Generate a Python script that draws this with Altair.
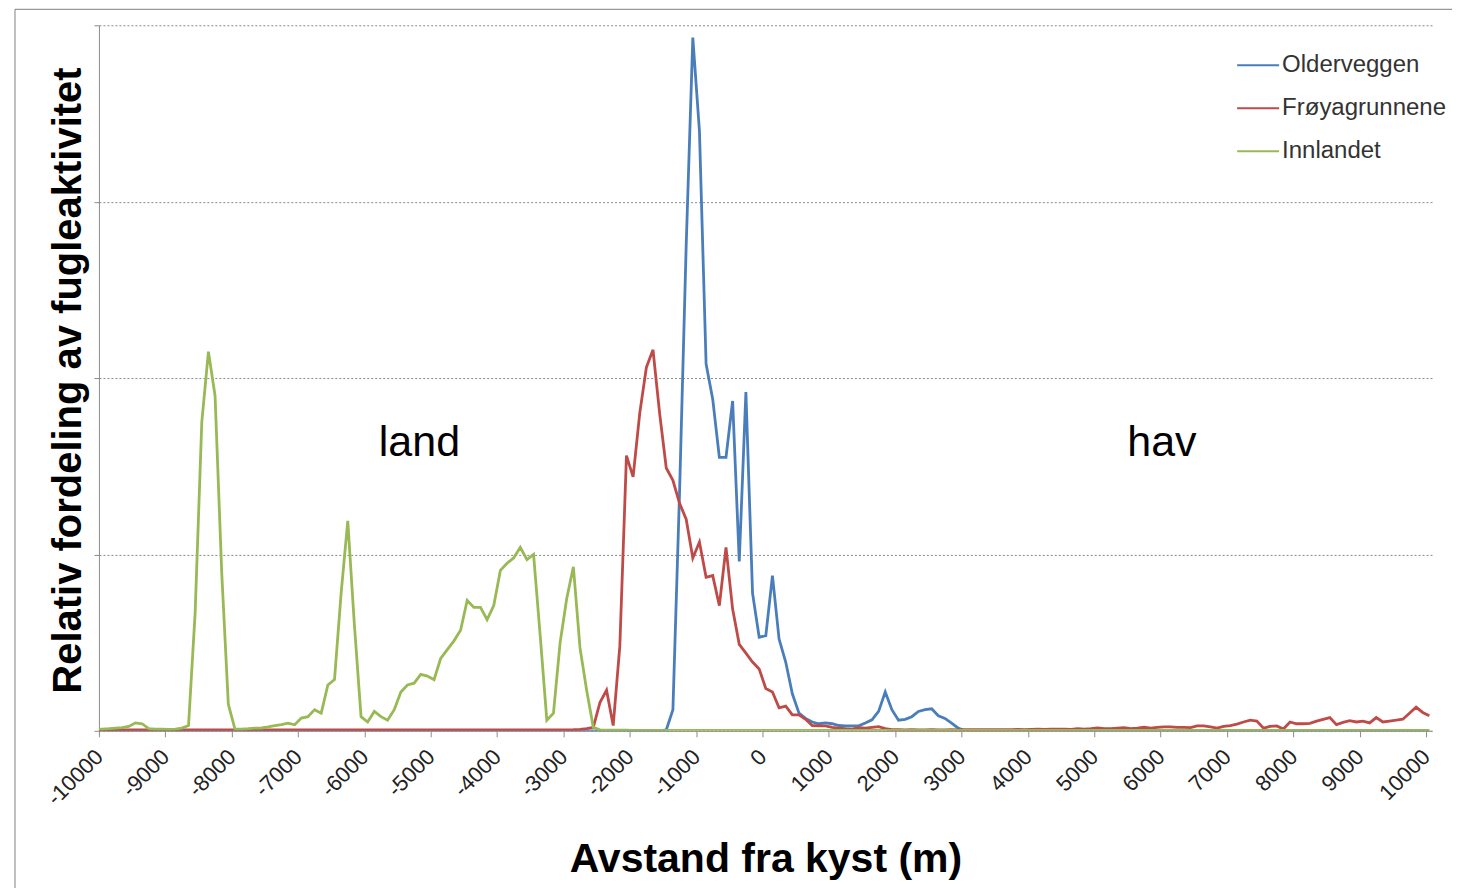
import altair as alt
import pandas as pd

# distance grid (m): bin centres with the two ends
x_vals = [-10000] + list(range(-9950, 10000, 100)) + [10050]

series_names = ["Olderveggen", "Frøyagrunnene", "Innlandet"]
series_colors = ["#4A7EBB", "#BE4B48", "#98B954"]

olderveggen = [
    0.0,
    0, 0, 0, 0, 0, 0, 0, 0, 0, 0,
    0, 0, 0, 0, 0, 0, 0, 0, 0, 0,
    0, 0, 0, 0, 0, 0, 0, 0, 0, 0,
    0, 0, 0, 0, 0, 0, 0, 0, 0, 0,
    0, 0, 0, 0, 0, 0, 0, 0, 0, 0,
    0, 0, 0, 0, 0, 0, 0, 0, 0, 0,
    0, 0, 0, 0, 0, 0, 0, 0, 0, 0,
    0, 0, 0, 0, 0, 0, 0, 0, 0, 0,
    0, 0, 0, 0, 0, 0.005, 0.12, 1.35, 2.75, 3.93,
    3.4, 2.08, 1.88, 1.55, 1.55, 1.87, 0.96, 1.92, 0.78, 0.53,
    0.54, 0.88, 0.52, 0.39, 0.21, 0.10, 0.07, 0.05, 0.04, 0.045,
    0.04, 0.03, 0.028, 0.028, 0.028, 0.044, 0.062, 0.11, 0.22, 0.12,
    0.06, 0.065, 0.08, 0.11, 0.12, 0.125, 0.085, 0.07, 0.044, 0.015,
    0, 0, 0, 0, 0, 0, 0, 0, 0, 0,
    0, 0, 0, 0, 0, 0, 0, 0, 0, 0,
    0, 0, 0, 0, 0, 0, 0, 0, 0, 0,
    0, 0, 0, 0, 0, 0, 0, 0, 0, 0,
    0, 0, 0, 0, 0, 0, 0, 0, 0, 0,
    0, 0, 0, 0, 0, 0, 0, 0, 0, 0,
    0, 0, 0, 0, 0, 0, 0, 0, 0, 0,
    0.0,
]

froyagrunnene = [
    0.004,
    0.005, 0.005, 0.005, 0.005, 0.005, 0.005, 0.005, 0.005, 0.005, 0.005,
    0.005, 0.005, 0.005, 0.005, 0.005, 0.005, 0.005, 0.005, 0.005, 0.005,
    0.005, 0.005, 0.005, 0.005, 0.005, 0.005, 0.005, 0.005, 0.005, 0.005,
    0.005, 0.005, 0.005, 0.005, 0.005, 0.005, 0.005, 0.005, 0.005, 0.005,
    0.005, 0.005, 0.005, 0.005, 0.005, 0.005, 0.005, 0.005, 0.005, 0.005,
    0.005, 0.005, 0.005, 0.005, 0.005, 0.005, 0.005, 0.005, 0.005, 0.005,
    0.005, 0.005, 0.005, 0.005, 0.005, 0.005, 0.005, 0.005, 0.005, 0.005,
    0.005, 0.006, 0.008, 0.012, 0.02, 0.16, 0.23, 0.03, 0.48, 1.56,
    1.44, 1.8, 2.06, 2.16, 1.8, 1.49, 1.42, 1.29, 1.20, 0.98,
    1.07, 0.87, 0.88, 0.71, 1.04, 0.69, 0.49, 0.44, 0.39, 0.35,
    0.24, 0.22, 0.13, 0.14, 0.09, 0.09, 0.065, 0.03, 0.028, 0.028,
    0.02, 0.015, 0.012, 0.01, 0.018, 0.015, 0.02, 0.024, 0.012, 0.006,
    0.006, 0.005, 0.006, 0.005, 0.005, 0.006, 0.005, 0.005, 0.006, 0.005,
    0.006, 0.006, 0.007, 0.006, 0.006, 0.007, 0.006, 0.007, 0.008, 0.007,
    0.008, 0.009, 0.008, 0.01, 0.009, 0.01, 0.008, 0.012, 0.01, 0.012,
    0.017, 0.012, 0.012, 0.015, 0.018, 0.012, 0.015, 0.02, 0.015, 0.02,
    0.022, 0.022, 0.02, 0.02, 0.018, 0.028, 0.028, 0.022, 0.015, 0.025,
    0.03, 0.038, 0.05, 0.06, 0.055, 0.015, 0.025, 0.028, 0.01, 0.05,
    0.04, 0.04, 0.042, 0.055, 0.065, 0.075, 0.035, 0.048, 0.058, 0.05,
    0.055, 0.045, 0.075, 0.05, 0.055, 0.06, 0.066, 0.1, 0.134, 0.104,
    0.085,
]

innlandet = [
    0.01,
    0.01, 0.012, 0.015, 0.018, 0.025, 0.045, 0.04, 0.012, 0.01, 0.01,
    0.008, 0.01, 0.015, 0.03, 0.67, 1.75, 2.15, 1.9, 0.9, 0.15,
    0.01, 0.01, 0.012, 0.015, 0.016, 0.022, 0.03, 0.035, 0.043, 0.034,
    0.072, 0.08, 0.12, 0.10, 0.26, 0.29, 0.78, 1.19, 0.6, 0.08,
    0.05, 0.11, 0.08, 0.06, 0.12, 0.22, 0.26, 0.27, 0.32, 0.31,
    0.29, 0.41, 0.46, 0.51, 0.57, 0.74, 0.70, 0.70, 0.63, 0.71,
    0.91, 0.95, 0.98, 1.04, 0.97, 1.00, 0.54, 0.06, 0.10, 0.50,
    0.75, 0.93, 0.47, 0.23, 0.02, 0.005, 0.004, 0.004, 0.004, 0.004,
    0.003, 0.003, 0.003, 0.003, 0.003, 0.003, 0.003, 0.003, 0.003, 0.003,
    0.003, 0.003, 0.003, 0.003, 0.003, 0.003, 0.003, 0.003, 0.003, 0.003,
    0.003, 0.003, 0.003, 0.003, 0.003, 0.003, 0.003, 0.003, 0.003, 0.003,
    0.003, 0.003, 0.003, 0.003, 0.003, 0.003, 0.003, 0.003, 0.003, 0.003,
    0.003, 0.003, 0.003, 0.003, 0.003, 0.003, 0.003, 0.003, 0.003, 0.003,
    0.003, 0.003, 0.003, 0.003, 0.003, 0.003, 0.003, 0.003, 0.003, 0.003,
    0.003, 0.003, 0.003, 0.003, 0.003, 0.003, 0.003, 0.003, 0.003, 0.003,
    0.003, 0.003, 0.003, 0.003, 0.003, 0.003, 0.003, 0.003, 0.003, 0.003,
    0.003, 0.003, 0.003, 0.003, 0.003, 0.003, 0.003, 0.003, 0.003, 0.003,
    0.003, 0.003, 0.003, 0.003, 0.003, 0.003, 0.003, 0.003, 0.003, 0.003,
    0.003, 0.003, 0.003, 0.003, 0.003, 0.003, 0.003, 0.003, 0.003, 0.003,
    0.003, 0.003, 0.003, 0.003, 0.003, 0.003, 0.003, 0.003, 0.003, 0.003,
    0.003,
]

x_ticks = list(range(-10000, 10001, 1000))
y_grid = [0, 1, 2, 3, 4]

ann_text = ["land", "hav"]
ann_x = [-5170, 6020]
ann_y = [1.63, 1.63]

rows = []
for name, vals in zip(series_names, [olderveggen, froyagrunnene, innlandet]):
    for xv, yv in zip(x_vals, vals):
        rows.append({"x": xv, "v": yv, "series": name})
df = pd.DataFrame(rows)
ann_df = pd.DataFrame({"t": ann_text, "x": ann_x, "y": ann_y})

FONT = "Liberation Sans"

x_enc = alt.X(
    "x:Q",
    scale=alt.Scale(domain=[-10000, 10090], nice=False, zero=False),
    axis=alt.Axis(
        values=x_ticks,
        labelExpr="datum.value < 0 ? '-' + abs(datum.value) : '' + datum.value",
        labelAngle=-45,
        labelAlign="right",
        labelBaseline="middle",
        labelFont=FONT,
        labelFontSize=22,
        labelColor="#222222",
        labelPadding=16,
        tickSize=6,
        tickColor="#8c8c8c",
        domainColor="#8c8c8c",
        grid=False,
        title="Avstand fra kyst (m)",
        titleFont=FONT,
        titleFontSize=41,
        titleFontWeight="bold",
        titleColor="#000000",
        titleY=129,
        titleBaseline="middle",
    ),
)
y_enc = alt.Y(
    "v:Q",
    scale=alt.Scale(domain=[0, 4], nice=False),
    axis=alt.Axis(
        values=y_grid,
        labels=False,
        tickSize=5,
        tickColor="#8c8c8c",
        domainColor="#8c8c8c",
        grid=True,
        gridColor="#8a8a8a",
        gridDash=[2, 2],
        gridWidth=1,
        title="Relativ fordeling av fugleaktivitet",
        titleFont=FONT,
        titleFontSize=40,
        titleFontWeight="bold",
        titleColor="#000000",
        titleAngle=-90,
        titleX=-30,
        titleY=355,
        titleAlign="center",
        titleBaseline="middle",
    ),
)
color_enc = alt.Color(
    "series:N",
    scale=alt.Scale(domain=series_names, range=series_colors),
    legend=alt.Legend(
        title=None,
        orient="none",
        legendX=1138,
        legendY=18,
        symbolType="stroke",
        symbolSize=1764,
        symbolStrokeWidth=2,
        labelFont=FONT,
        labelFontSize=24,
        labelColor="#333333",
        labelOffset=2,
        labelLimit=0,
        rowPadding=9,
        padding=0,
    ),
)

layers = []
for name in series_names:
    layers.append(
        alt.Chart(df)
        .transform_filter(alt.datum.series == name)
        .mark_line(strokeWidth=2.8, clip=True)
        .encode(x=x_enc, y=y_enc, color=color_enc)
    )

ann = (
    alt.Chart(ann_df)
    .mark_text(font=FONT, fontSize=43, color="#000000", align="center", baseline="middle")
    .encode(x="x:Q", y="y:Q", text="t:N")
)

frame = (
    alt.Chart(alt.Data(values=[{}]))
    .mark_rect(filled=False, stroke="#7f7f7f", strokeWidth=1)
    .encode(
        x=alt.value(-84),
        x2=alt.value(1500),
        y=alt.value(-16),
        y2=alt.value(1000),
    )
)

chart = (
    alt.layer(frame, *layers, ann)
    .properties(
        width=1334,
        height=706,
        padding={"left": 91, "top": 17, "right": 20, "bottom": 160},
        autosize="none",
    )
    .configure_view(stroke=None)
)

chart.save("out.html", embed_options={"renderer": "svg", "actions": False})
